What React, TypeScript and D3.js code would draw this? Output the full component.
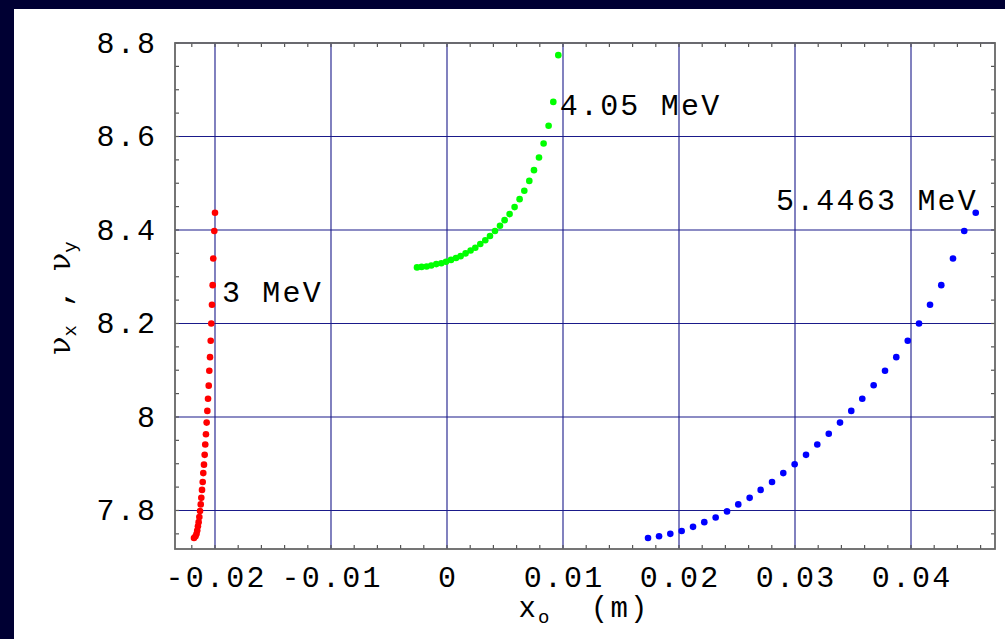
import { useEffect, useRef } from 'react'
import * as d3 from 'd3'

const W = 1005
const H = 639
const FRAME = { left: 175, right: 995, top: 43, bottom: 549 }

// 3 MeV scan (red)
const x3 = [
    -0.02000, -0.02006, -0.02015, -0.02020, -0.02026, -0.02032, -0.02037, -0.02043, -0.02049, -0.02054,
    -0.02060, -0.02066, -0.02072, -0.02078, -0.02084, -0.02089, -0.02095, -0.02101, -0.02106, -0.02112,
    -0.02118, -0.02123, -0.02129, -0.02135, -0.02141, -0.02147, -0.02153, -0.02159, -0.02168, -0.02181,
]
const nu3 = [
    8.437, 8.398, 8.339, 8.282, 8.240, 8.200, 8.163, 8.128, 8.099, 8.067,
    8.039, 8.013, 7.988, 7.963, 7.941, 7.919, 7.898, 7.880, 7.861, 7.844,
    7.827, 7.813, 7.799, 7.786, 7.775, 7.766, 7.757, 7.750, 7.745, 7.741,
]
// 4.05 MeV scan (green)
const x4 = [
    0.009595, 0.009164, 0.008759, 0.008328, 0.007931, 0.007500, 0.007095, 0.006664, 0.006259, 0.005828,
    0.005397, 0.004966, 0.004569, 0.004138, 0.003707, 0.003302, 0.002871, 0.002440, 0.002034, 0.001603,
    0.001172, 0.000776, 0.000345, -0.000086, -0.000491, -0.000922, -0.001353, -0.001759, -0.002190, -0.002586,
]
const nu4 = [
    8.774, 8.674, 8.623, 8.585, 8.555, 8.528, 8.505, 8.484, 8.466, 8.449,
    8.434, 8.421, 8.409, 8.398, 8.387, 8.378, 8.370, 8.362, 8.356, 8.350,
    8.344, 8.340, 8.336, 8.332, 8.329, 8.327, 8.324, 8.322, 8.321, 8.320,
]
// 5.4463 MeV scan (blue)
const x5 = [
    0.04558, 0.04459, 0.04362, 0.04261, 0.04164, 0.04069, 0.03972, 0.03873, 0.03776, 0.03678,
    0.03580, 0.03485, 0.03388, 0.03291, 0.03192, 0.03095, 0.02997, 0.02899, 0.02802, 0.02704,
    0.02609, 0.02511, 0.02414, 0.02316, 0.02218, 0.02121, 0.02023, 0.01925, 0.01828, 0.01733,
]
const nu5 = [
    8.437, 8.398, 8.339, 8.282, 8.240, 8.200, 8.163, 8.128, 8.099, 8.068,
    8.039, 8.013, 7.988, 7.964, 7.941, 7.919, 7.899, 7.880, 7.861, 7.844,
    7.827, 7.813, 7.798, 7.785, 7.775, 7.765, 7.756, 7.750, 7.745, 7.741,
]

const xTicks = [-0.02, -0.01, 0, 0.01, 0.02, 0.03, 0.04]
const xTickLabels = ['-0.02', '-0.01', '0', '0.01', '0.02', '0.03', '0.04']
const yTicks = [7.8, 8, 8.2, 8.4, 8.6, 8.8]
const yTickLabels = ['7.8', '8', '8.2', '8.4', '8.6', '8.8']

const energyLabels = [
    { text: '3 MeV', x: -0.0194, y: 8.267 },
    { text: '4.05 MeV', x: 0.00972, y: 8.667 },
    { text: '5.4463 MeV', x: 0.02836, y: 8.464 },
]

const MONO = '"Liberation Mono", "DejaVu Sans Mono", monospace'
const SERIF = '"DejaVu Serif", "Liberation Serif", serif'
const LS = 2.2

export default function App() {
    const svgRef = useRef<SVGSVGElement | null>(null)

    useEffect(() => {
        const svg = d3.select(svgRef.current).attr('width', W).attr('height', H)
        svg.selectAll('*').remove()

        const x = d3.scaleLinear().domain([-0.023448, 0.047241]).range([FRAME.left, FRAME.right])
        const y = d3.scaleLinear().domain([7.7176, 8.8]).range([FRAME.bottom, FRAME.top])

        // page background
        svg.append('rect').attr('width', W).attr('height', H).attr('fill', '#000033')
        svg.append('rect').attr('x', 14).attr('y', 9).attr('width', W - 14).attr('height', H - 9).attr('fill', '#ffffff')

        // grid lines
        const grid = svg.append('g').attr('stroke', '#1a1a8a').attr('stroke-width', 1.1)
        grid.selectAll('.gx').data(xTicks).enter().append('line')
            .attr('x1', (d: number) => x(d)).attr('x2', (d: number) => x(d))
            .attr('y1', FRAME.top).attr('y2', FRAME.bottom)
        grid.selectAll('.gy').data(yTicks).enter().append('line')
            .attr('x1', FRAME.left).attr('x2', FRAME.right)
            .attr('y1', (d: number) => y(d)).attr('y2', (d: number) => y(d))

        // frame ticks (inward)
        const ticks = svg.append('g').attr('stroke', '#555').attr('stroke-width', 1.2)
        const xMinor = d3.range(-0.022, 0.0465, 0.002)
        const yMinor = d3.range(7.75, 8.8001, 0.05)
        const tl = 4
        ticks.selectAll('.tb').data(xMinor).enter().append('line')
            .attr('x1', (d: number) => x(d)).attr('x2', (d: number) => x(d))
            .attr('y1', FRAME.bottom).attr('y2', FRAME.bottom - tl)
        ticks.selectAll('.tt').data(xMinor).enter().append('line')
            .attr('x1', (d: number) => x(d)).attr('x2', (d: number) => x(d))
            .attr('y1', FRAME.top).attr('y2', FRAME.top + tl)
        ticks.selectAll('.tl').data(yMinor).enter().append('line')
            .attr('x1', FRAME.left).attr('x2', FRAME.left + tl)
            .attr('y1', (d: number) => y(d)).attr('y2', (d: number) => y(d))
        ticks.selectAll('.tr').data(yMinor).enter().append('line')
            .attr('x1', FRAME.right).attr('x2', FRAME.right - tl)
            .attr('y1', (d: number) => y(d)).attr('y2', (d: number) => y(d))

        // frame
        svg.append('rect')
            .attr('x', FRAME.left).attr('y', FRAME.top)
            .attr('width', FRAME.right - FRAME.left).attr('height', FRAME.bottom - FRAME.top)
            .attr('fill', 'none').attr('stroke', '#666').attr('stroke-width', 1.8)

        // the three scans
        const series = [
            { xs: x3, ys: nu3, color: '#ff0000' },
            { xs: x4, ys: nu4, color: '#00ff00' },
            { xs: x5, ys: nu5, color: '#0000ff' },
        ]
        series.forEach(s => {
            svg.append('g').selectAll('circle')
                .data(s.xs.map((v, i) => [v, s.ys[i]]))
                .enter().append('circle')
                .attr('cx', (d: number[]) => x(d[0]))
                .attr('cy', (d: number[]) => y(d[1]))
                .attr('r', 3.3)
                .attr('fill', s.color)
        })

        // tick labels
        svg.append('g').selectAll('text').data(xTicks).enter().append('text')
            .attr('x', (d: number) => x(d) + LS / 2).attr('y', 587)
            .attr('text-anchor', 'middle')
            .attr('font-family', MONO).attr('font-size', 30).attr('letter-spacing', LS)
            .text((d: number, i: number) => xTickLabels[i])
        svg.append('g').selectAll('text').data(yTicks).enter().append('text')
            .attr('x', 155 + LS).attr('y', (d: number) => y(d) + 10)
            .attr('text-anchor', 'end')
            .attr('font-family', MONO).attr('font-size', 30).attr('letter-spacing', LS)
            .text((d: number, i: number) => yTickLabels[i])

        // energy annotations
        svg.append('g').selectAll('text').data(energyLabels).enter().append('text')
            .attr('x', (d: any) => x(d.x)).attr('y', (d: any) => y(d.y) + 10)
            .attr('font-family', MONO).attr('font-size', 30).attr('letter-spacing', LS)
            .text((d: any) => d.text)

        // x axis label
        const xl = svg.append('text')
            .attr('x', 584).attr('y', 617)
            .attr('text-anchor', 'middle')
            .attr('font-family', MONO).attr('font-size', 29).attr('letter-spacing', LS)
        xl.append('tspan').text('x')
        xl.append('tspan').attr('font-size', 19).attr('dy', 6).text('o')
        xl.append('tspan').attr('dy', -6).text('\u00a0\u00a0(m)')

        // y axis label
        const yl = svg.append('text')
            .attr('transform', 'translate(70,298) rotate(-90)')
            .attr('text-anchor', 'middle')
            .attr('font-size', 30)
        yl.append('tspan').attr('font-family', SERIF).text('\u03bd')
        yl.append('tspan').attr('font-family', MONO).attr('font-size', 19).attr('dy', 6).text('x')
        yl.append('tspan').attr('font-family', MONO).attr('dy', -6).text(' , ')
        yl.append('tspan').attr('font-family', SERIF).text('\u03bd')
        yl.append('tspan').attr('font-family', MONO).attr('font-size', 19).attr('dy', 6).text('y')

        return () => { svg.selectAll('*').remove() }
    }, [])

    return (
        <div style={{ position: 'fixed', left: 0, top: 0 }}>
            <svg ref={svgRef} style={{ display: 'block' }}></svg>
        </div>
    )
}
